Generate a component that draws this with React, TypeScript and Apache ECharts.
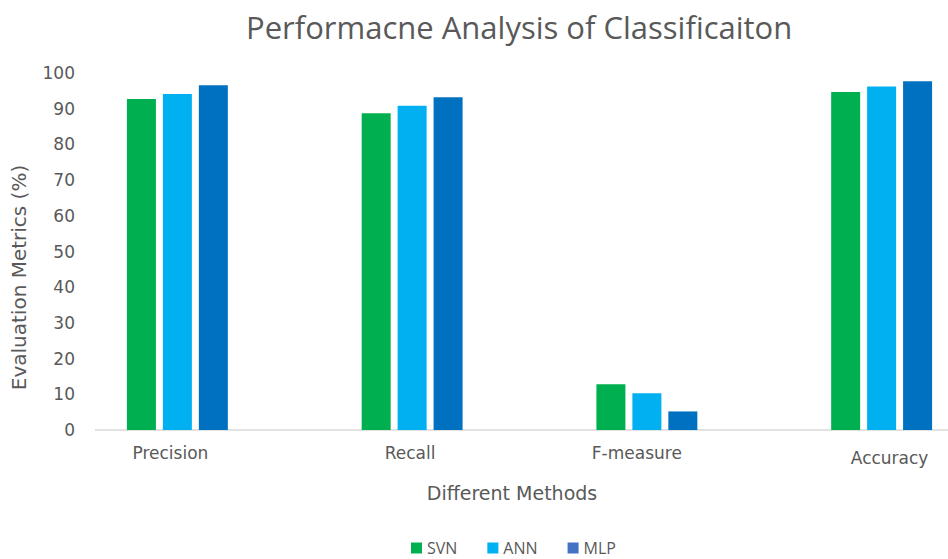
import React, { useEffect, useRef } from "react";
import * as echarts from "echarts";

const categories = ["Precision", "Recall", "F-measure", "Accuracy"];
const seriesNames = ["SVN", "ANN", "MLP"];
const svnValues = [92.7, 88.7, 12.8, 94.7];
const annValues = [94.1, 90.8, 10.3, 96.2];
const mlpValues = [96.6, 93.2, 5.2, 97.7];
const yTicks = [0, 100, 10];

const colors = ["#00B050", "#00B0F0", "#0070C0"];
const FONT = "'Open Sans', 'Noto Sans', sans-serif";
const WIDE = "'DejaVu Sans', 'Open Sans', sans-serif";
const TXT = "#595959";

export default function App() {
  const ref = useRef<HTMLDivElement>(null);
  useEffect(() => {
    if (!ref.current) return;
    const chart = echarts.init(ref.current, undefined, { renderer: "svg" });
    const values = [svnValues, annValues, mlpValues];
    chart.setOption({
      animation: false,
      backgroundColor: "#ffffff",
      title: {
        text: "Performacne Analysis of Classificaiton",
        left: 241,
        top: 6,
        textStyle: { fontFamily: FONT, fontSize: 31, fontWeight: "normal", color: TXT },
      },
      legend: {
        data: [
          { name: "SVN" },
          { name: "ANN" },
          { name: "MLP", itemStyle: { color: "#4472C4" } },
        ],
        left: 406,
        top: 535,
        itemWidth: 11,
        itemHeight: 11,
        itemGap: 30,
        icon: "rect",
        textStyle: { fontFamily: FONT, fontSize: 16, color: TXT },
      },
      grid: { left: 60, width: 939, top: 73, height: 357, containLabel: false },
      xAxis: {
        type: "category",
        data: categories,
        axisLine: { show: false },
        axisTick: { show: false },
        axisLabel: {
          fontFamily: WIDE,
          fontSize: 17,
          color: TXT,
          margin: 14,
          formatter: (v: string) => {
            const key = ({ Precision: "p", Recall: "r", "F-measure": "f", Accuracy: "a" } as any)[v] || "p";
            return `{${key}|${v}}`;
          },
          rich: {
            p: { fontFamily: WIDE, fontSize: 17, color: TXT, padding: [0, 14, 0, 0] },
            r: { fontFamily: WIDE, fontSize: 17, color: TXT, padding: [0, 4, 0, 0] },
            f: { fontFamily: WIDE, fontSize: 17, color: TXT, padding: [0, 20, 0, 0] },
            a: { fontFamily: WIDE, fontSize: 17, color: TXT, padding: [5, 0, 0, 16] },
          },
        },
        name: "Different Methods",
        nameLocation: "middle",
        nameGap: 53,
        nameTextStyle: { fontFamily: WIDE, fontSize: 19, color: TXT, padding: [0, 35, 0, 0] },
      },
      yAxis: {
        type: "value",
        min: yTicks[0],
        max: yTicks[1],
        interval: yTicks[2],
        offset: -35,
        axisLine: { show: false },
        axisTick: { show: false },
        splitLine: { show: false },
        axisLabel: { fontFamily: WIDE, fontSize: 17, color: TXT, margin: 20 },
        name: "Evaluation Metrics (%)",
        nameLocation: "middle",
        nameGap: 66,
        nameTextStyle: { fontFamily: WIDE, fontSize: 20, color: TXT, padding: [0, 52, 0, 0] },
      },
      series: seriesNames.map((name, i) => ({
        name,
        type: "bar",
        data: values[i],
        barWidth: 29,
        barGap: "24%",
        itemStyle: { color: colors[i] },
      })),
    });
    const y0 = chart.convertToPixel({ yAxisIndex: 0 }, 0) as number;
    chart.setOption({
      graphic: [
        {
          type: "line",
          shape: { x1: 95, y1: y0, x2: 948, y2: y0 },
          style: { stroke: "#D9D9D9", lineWidth: 1.5 },
          z: 0,
        },
      ],
    });
    return () => chart.dispose();
  }, []);
  return (
    <div style={{ width: 948, height: 559, overflow: "hidden", position: "absolute", left: 0, top: 0 }}>
      <div ref={ref} style={{ width: 1000, height: 559 }} />
    </div>
  );
}
